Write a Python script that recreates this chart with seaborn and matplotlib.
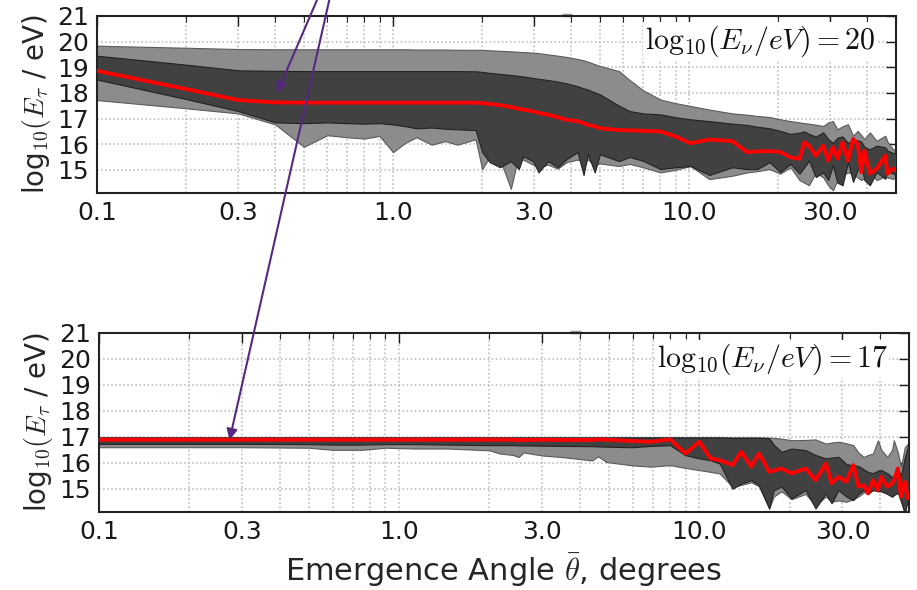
import numpy as np
import pandas as pd
import matplotlib
matplotlib.use("Agg")
import matplotlib.pyplot as plt
from matplotlib.ticker import FixedLocator, LogLocator, NullFormatter
import seaborn as sns

# ---- E_nu = 10^20 eV: tau energy percentiles vs emergence angle ----
angle_20 = [0.10, 0.20, 0.30, 0.40, 0.50, 0.60, 0.70, 0.80, 0.90, 1.00,
            1.10, 1.20, 1.35, 1.50, 1.65, 1.90, 2.00, 2.12, 2.30, 2.50,
            2.66, 2.75, 2.97, 3.10, 3.34, 3.60, 3.86, 4.20, 4.40, 4.55,
            4.80, 5.00, 5.80, 6.30, 7.00, 8.00, 9.00, 10.1, 11.7, 14.0,
            15.7, 17.0, 18.7, 20.3, 22.0, 23.6, 24.5, 25.4, 26.8, 28.4,
            29.5, 30.6, 31.7, 33.0, 34.4, 35.8, 37.1, 38.2, 39.1, 40.8,
            43.0, 46.0, 46.8, 48.8, 50.0]
outer_hi_20 = [19.84, 19.76, 19.71, 19.70, 19.70, 19.70, 19.70, 19.70, 19.70, 19.70,
               19.70, 19.69, 19.69, 19.69, 19.68, 19.68, 19.68, 19.66, 19.64, 19.62,
               19.60, 19.59, 19.57, 19.55, 19.50, 19.45, 19.40, 19.32, 19.27, 19.22,
               19.12, 19.05, 18.85, 18.50, 18.10, 17.74, 17.60, 17.49, 17.35, 17.20,
               17.15, 17.10, 17.06, 16.97, 16.90, 16.85, 16.82, 16.80, 16.76, 16.71,
               16.85, 16.90, 16.58, 16.70, 16.78, 16.33, 16.52, 16.35, 16.20, 16.46,
               16.13, 16.33, 16.10, 15.81, 15.75]
inner_hi_20 = [19.45, 19.10, 18.88, 18.86, 18.85, 18.85, 18.85, 18.85, 18.85, 18.85,
               18.85, 18.85, 18.85, 18.85, 18.85, 18.84, 18.82, 18.78, 18.74, 18.70,
               18.66, 18.64, 18.58, 18.55, 18.50, 18.44, 18.37, 18.26, 18.18, 18.13,
               18.02, 17.94, 17.50, 17.29, 17.20, 17.16, 17.05, 16.97, 16.90, 16.80,
               16.75, 16.68, 16.62, 16.52, 16.40, 16.45, 16.50, 16.40, 16.30, 16.46,
               16.20, 16.05, 16.25, 16.30, 16.05, 16.20, 16.15, 16.10, 15.90, 15.80,
               15.94, 15.88, 15.75, 15.66, 15.62]
median_20 = [18.86, 18.15, 17.72, 17.63, 17.62, 17.62, 17.62, 17.62, 17.62, 17.62,
             17.62, 17.62, 17.62, 17.62, 17.62, 17.62, 17.60, 17.57, 17.52, 17.45,
             17.38, 17.35, 17.28, 17.22, 17.15, 17.05, 16.95, 16.90, 16.82, 16.75,
             16.70, 16.62, 16.55, 16.54, 16.52, 16.50, 16.30, 16.04, 16.18, 16.12,
             15.69, 15.72, 15.73, 15.70, 15.49, 15.43, 16.07, 15.94, 15.55, 15.94,
             15.36, 15.88, 15.43, 16.07, 15.36, 16.20, 16.00, 14.91, 15.75, 14.85,
             15.04, 15.55, 14.85, 15.04, 15.00]
inner_lo_20 = [18.52, 17.76, 17.29, 16.85, 16.82, 16.85, 16.82, 16.80, 16.82, 16.77,
               16.70, 16.62, 16.65, 16.60, 16.58, 16.55, 15.69, 15.30, 15.10, 15.34,
               15.03, 15.53, 15.34, 14.90, 15.34, 15.10, 15.42, 15.69, 14.80, 15.61,
               14.90, 15.61, 15.34, 15.50, 15.35, 15.03, 15.10, 15.15, 14.80, 15.10,
               15.03, 15.03, 15.30, 14.91, 15.23, 14.85, 15.10, 15.36, 14.72, 14.90,
               14.60, 15.17, 14.50, 14.40, 15.30, 14.53, 15.00, 15.17, 14.60, 14.40,
               14.91, 14.65, 14.98, 14.85, 14.85]
outer_lo_20 = [17.72, 17.40, 17.20, 16.77, 15.90, 16.35, 16.27, 16.22, 16.32, 15.69,
               16.05, 16.27, 15.98, 16.12, 15.98, 16.19, 15.03, 15.50, 15.40, 14.26,
               15.60, 15.40, 15.20, 15.10, 15.20, 15.05, 15.30, 15.40, 15.30, 15.40,
               15.20, 15.25, 15.15, 15.23, 15.10, 14.90, 15.00, 15.15, 14.64, 14.77,
               14.90, 14.95, 15.03, 14.85, 15.10, 14.60, 14.50, 14.40, 14.90, 14.70,
               14.40, 14.20, 14.60, 14.80, 14.90, 14.85, 14.70, 14.60, 14.70, 14.90,
               14.60, 14.75, 14.70, 14.65, 14.70]

# ---- E_nu = 10^17 eV ----
angle_17 = [0.10, 0.30, 0.50, 0.60, 0.75, 0.90, 1.12, 1.45, 2.00, 2.16,
            2.40, 2.50, 2.60, 3.00, 3.50, 4.40, 4.60, 4.90, 6.00, 6.90,
            8.00, 9.00, 10.0, 10.9, 11.7, 12.9, 13.8, 14.9, 15.8, 17.1,
            17.7, 18.8, 20.3, 22.6, 24.4, 26.4, 27.6, 29.1, 30.9, 32.6,
            33.9, 35.3, 36.5, 37.9, 39.4, 40.4, 42.3, 43.9, 44.5, 45.9,
            47.0, 48.4, 49.6, 50.0]
outer_hi_17 = [16.99, 16.99, 16.99, 16.99, 16.99, 16.99, 16.99, 16.99, 16.99, 16.99,
               16.99, 16.99, 16.99, 16.99, 16.99, 16.99, 16.99, 16.99, 16.99, 16.99,
               16.99, 16.99, 16.99, 16.99, 16.99, 16.98, 16.98, 16.98, 16.98, 16.97,
               16.96, 16.93, 16.87, 16.88, 16.90, 16.74, 16.78, 16.81, 16.75, 16.68,
               16.40, 16.23, 16.30, 16.36, 16.87, 16.50, 16.23, 16.49, 16.87, 16.40,
               15.85, 16.60, 16.74, 16.70]
inner_hi_17 = [16.97, 16.97, 16.97, 16.97, 16.97, 16.97, 16.97, 16.97, 16.97, 16.97,
               16.97, 16.97, 16.97, 16.97, 16.97, 16.97, 16.97, 16.97, 16.97, 16.97,
               16.97, 16.97, 16.97, 16.97, 16.97, 16.96, 16.96, 16.96, 16.96, 16.95,
               16.70, 16.42, 16.55, 16.49, 16.30, 16.17, 16.20, 16.23, 15.95, 15.90,
               15.88, 15.75, 15.65, 15.60, 15.70, 15.72, 15.60, 15.45, 15.40, 15.78,
               15.50, 16.20, 16.62, 16.55]
median_17 = [16.89, 16.89, 16.89, 16.89, 16.89, 16.89, 16.89, 16.89, 16.89, 16.89,
             16.89, 16.88, 16.88, 16.89, 16.88, 16.88, 16.90, 16.89, 16.84, 16.81,
             16.90, 16.36, 16.81, 16.17, 16.10, 15.91, 16.42, 15.85, 16.36, 15.65,
             15.70, 15.78, 15.59, 15.78, 15.33, 15.97, 15.21, 15.46, 15.27, 15.91,
             15.08, 15.14, 14.82, 15.33, 14.95, 15.46, 15.08, 15.21, 15.30, 15.78,
             14.69, 15.27, 14.63, 14.70]
inner_lo_17 = [16.73, 16.73, 16.72, 16.70, 16.70, 16.72, 16.72, 16.70, 16.68, 16.68,
               16.68, 16.67, 16.67, 16.66, 16.65, 16.64, 16.63, 16.62, 16.60, 16.65,
               16.68, 16.29, 16.17, 16.10, 15.97, 15.00, 15.20, 15.33, 15.14, 14.24,
               14.95, 15.08, 14.63, 14.95, 14.24, 14.82, 14.44, 14.95, 14.70, 14.56,
               14.80, 14.95, 14.80, 14.95, 14.90, 14.90, 14.80, 14.69, 14.75, 14.85,
               14.50, 14.05, 14.60, 14.60]
outer_lo_17 = [16.60, 16.60, 16.58, 16.50, 16.50, 16.58, 16.55, 16.55, 16.48, 16.36,
               16.30, 16.22, 16.40, 16.28, 16.22, 16.09, 16.25, 16.03, 15.90, 15.85,
               15.91, 15.80, 15.72, 15.65, 15.59, 15.08, 15.15, 15.25, 15.10, 14.24,
               14.70, 14.90, 14.60, 14.80, 14.37, 14.70, 14.50, 14.55, 14.50, 14.60,
               14.70, 14.85, 14.90, 14.95, 14.95, 14.95, 14.90, 14.85, 14.85, 14.95,
               14.60, 14.05, 14.90, 14.85]

x_ticks = [0.1, 0.3, 1.0, 3.0, 10.0, 30.0]
x_tick_labels = ["0.1", "0.3", "1.0", "3.0", "10.0", "30.0"]
y_ticks = [15, 16, 17, 18, 19, 20, 21]

panels = [
    dict(angle=angle_20, ohi=outer_hi_20, ihi=inner_hi_20, med=median_20,
         ilo=inner_lo_20, olo=outer_lo_20, energy=20),
    dict(angle=angle_17, ohi=outer_hi_17, ihi=inner_hi_17, med=median_17,
         ilo=inner_lo_17, olo=outer_lo_17, energy=17),
]

sns.set_theme(style="white")
plt.rcParams["font.family"] = ["DejaVu Sans"]
plt.rcParams["mathtext.fontset"] = "cm"

fig = plt.figure(figsize=(9.17, 5.90), dpi=100)
axes_rects = [
    [0.1058, 0.673, 0.8713, 0.300],
    [0.1080, 0.132, 0.8833, 0.3036],
]

LIGHT = "#8c8c8c"
DARK = "#414141"

for rect, p in zip(axes_rects, panels):
    ax = fig.add_axes(rect)
    df = pd.DataFrame({"angle": p["angle"], "median": p["med"]})
    ax.fill_between(p["angle"], p["olo"], p["ohi"], facecolor=LIGHT,
                    edgecolor="#5a5a5a", linewidth=0.8, zorder=2)
    ax.fill_between(p["angle"], p["ilo"], p["ihi"], facecolor=DARK,
                    edgecolor="#222222", linewidth=0.8, zorder=3)
    sns.lineplot(data=df, x="angle", y="median", ax=ax, color="#ff0000",
                 linewidth=2.8, zorder=4, legend=False)

    ax.set_xscale("log")
    ax.set_xlim(0.1, 50)
    ax.set_ylim(14.1, 21)
    ax.xaxis.set_major_locator(FixedLocator(x_ticks))
    ax.set_xticklabels(x_tick_labels)
    ax.xaxis.set_minor_locator(LogLocator(base=10, subs=np.arange(2, 10)))
    ax.xaxis.set_minor_formatter(NullFormatter())
    ax.set_yticks(y_ticks)

    ax.grid(True, which="both", axis="x", color="#b5b5b5", linestyle=":", linewidth=1.1, zorder=1)
    ax.grid(True, which="major", axis="y", color="#b5b5b5", linestyle=":", linewidth=1.1, zorder=1)
    ax.set_axisbelow(True)

    ax.tick_params(axis="both", which="major", direction="in", top=True, right=True,
                   length=7, width=1.0, labelsize=18, pad=6, colors="#1a1a1a")
    ax.tick_params(axis="both", which="minor", direction="in", top=True, right=True,
                   length=4, width=0.8)
    for s in ax.spines.values():
        s.set_color("#222222")
        s.set_linewidth(1.5)

    ax.set_xlabel("")
    ax.set_ylabel(r"log$_{10}(E_\tau$ / eV)", fontsize=20, labelpad=3)
    ax.text(0.974, 0.855, r"$\mathrm{log}_{10}(E_\nu/eV) = %d$" % p["energy"],
            transform=ax.transAxes, ha="right", va="center", fontsize=21.5,
            color="#111111", zorder=6,
            bbox=dict(facecolor="white", edgecolor="none", pad=1.0))
    # short marker above the frame
    ax.plot([0.582, 0.595], [1.008, 1.008], transform=ax.transAxes, color="#9a9a9a",
            linewidth=2.5, clip_on=False, solid_capstyle="butt")

fig.axes[1].set_xlabel(r"Emergence Angle $\bar{\theta}$, degrees", fontsize=22, labelpad=5)

# annotation arrows pointing into the panels
arrow_kw = dict(arrowstyle="-|>", color="#55297f", lw=1.5, mutation_scale=16,
                shrinkA=0, shrinkB=0)
fig.add_artist(matplotlib.patches.FancyArrowPatch(
    (317 / 917, 1.0), (277 / 917, 1 - 93 / 590),
    transform=fig.transFigure, zorder=10, **arrow_kw))
fig.add_artist(matplotlib.patches.FancyArrowPatch(
    (329.3 / 917, 1.0), (229.5 / 917, 1 - 440 / 590),
    transform=fig.transFigure, zorder=10, **arrow_kw))

fig.savefig("out.png", dpi=100)
